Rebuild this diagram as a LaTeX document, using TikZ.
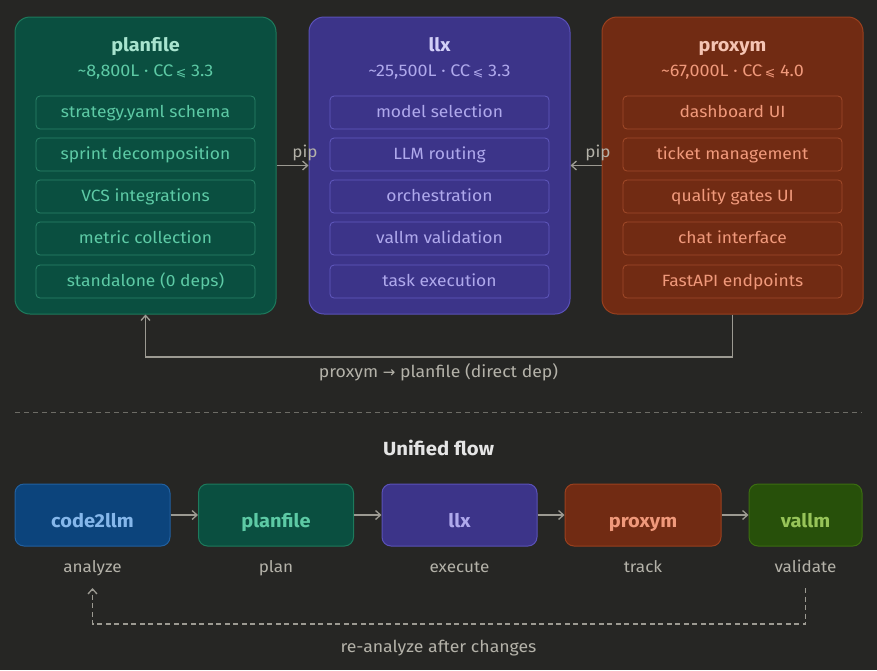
\documentclass[tikz,border=0pt]{standalone}
\usepackage{fontspec}
\setmainfont{Fira Sans}[FakeStretch=1.07]
\newfontfamily\symfont{DejaVu Sans}
\usetikzlibrary{arrows.meta,positioning}
\definecolor{bg}{HTML}{262624}
\definecolor{conn}{HTML}{9C9A92}
\definecolor{lbl}{HTML}{B4B2A9}
\definecolor{pfF}{HTML}{0A4F40}\definecolor{pfB}{HTML}{1D7A5C}\definecolor{pfT}{HTML}{A8E4CF}\definecolor{pfS}{HTML}{5DCAA5}\definecolor{pfI}{HTML}{2A8468}
\definecolor{lxF}{HTML}{3C3489}\definecolor{lxB}{HTML}{5A51B8}\definecolor{lxT}{HTML}{D2CFF7}\definecolor{lxS}{HTML}{AFA9EC}\definecolor{lxI}{HTML}{6159BF}
\definecolor{pxF}{HTML}{712B13}\definecolor{pxB}{HTML}{99401E}\definecolor{pxT}{HTML}{F5C4B3}\definecolor{pxS}{HTML}{F0997B}\definecolor{pxI}{HTML}{A14A2A}
\definecolor{cdF}{HTML}{0C447C}\definecolor{cdB}{HTML}{2160A0}\definecolor{cdT}{HTML}{85B7EB}
\definecolor{vaF}{HTML}{27500A}\definecolor{vaB}{HTML}{3B6D11}\definecolor{vaT}{HTML}{97C459}
\tikzset{
  bigbox/.style={draw, line width=1pt, rounded corners=15pt, minimum width=261pt, minimum height=297pt},
  inbox/.style={draw, line width=0.8pt, rounded corners=4pt, minimum width=219pt, minimum height=33pt, font=\fontsize{16.3}{18}\selectfont, inner sep=0pt, text height=12pt, text depth=1.6pt},
  ttl/.style={anchor=base, font=\fontsize{18.5}{21}\selectfont\bfseries},
  sub/.style={anchor=base, font=\fontsize{16.8}{18}\selectfont},
  flowbox/.style={draw, line width=1pt, rounded corners=9pt, minimum height=62pt},
  ftxt/.style={anchor=base, font=\fontsize{18.7}{21}\selectfont\bfseries},
  flab/.style={anchor=base, text=lbl, font=\fontsize{16}{18}\selectfont},
  cline/.style={draw=conn, line width=1.5pt},
  tip/.style={-{Straight Barb[length=5pt,width=9pt,line width=1.3pt]}},
}
\newcommand{\ccbar}{C\kern-0.5pt C\kern-3pt\raisebox{7pt}{\fontsize{9}{9}\selectfont -}\kern2pt}
\newcommand{\leqs}{{\symfont\fontsize{12.5}{12}\selectfont ⩽}}
\begin{document}
\begin{tikzpicture}[x=1pt,y=-1pt]
\useasboundingbox[fill=bg] (0,0) rectangle (877,670);
% top boxes
\node[bigbox, fill=pfF, draw=pfB] (pf) at (145.5,165.5) {};
\node[bigbox, fill=lxF, draw=lxB] (lx) at (439.5,165.5) {};
\node[bigbox, fill=pxF, draw=pxB] (px) at (732.5,165.5) {};
\node[ttl, text=pfT] (pft) at (145.5,51) {planfile};
\node[ttl, text=lxT] (lxt) at (439.5,51) {llx};
\node[ttl, text=pxT] (pxt) at (732.5,51) {proxym};
\node[sub, text=pfS] (pfs) at (145.5,76.5) {\textasciitilde 8,800L · \ccbar\leqs\ 3.3};
\node[sub, text=lxS] (lxs) at (439.5,76.5) {\textasciitilde 25,500L · \ccbar\leqs\ 3.3};
\node[sub, text=pxS] (pxs) at (732.5,76.5) {\textasciitilde 67,000L · \ccbar\leqs\ 4.0};
% inner boxes
\foreach \i/\yy/\a/\b/\c in {1/112.5/strategy.yaml schema/model selection/dashboard UI,
  2/154.5/sprint decomposition/LLM routing/ticket management,
  3/196.5/VCS integrations/orchestration/quality gates UI,
  4/238.5/metric collection/vallm validation/chat interface,
  5/281.5/standalone (0 deps)/task execution/FastAPI endpoints}{
  \node[inbox, draw=pfI, text=pfS] (pfi\i) at (145.5,\yy) {\a};
  \node[inbox, draw=lxI, text=lxS] (lxi\i) at (439.5,\yy) {\b};
  \node[inbox, draw=pxI, text=pxS] (pxi\i) at (732.5,\yy) {\c};
}
% pip arrows
\draw[cline, tip] (pf.east) -- (lx.west);
\draw[cline, tip] (px.west) -- (lx.east);
\node[flab] (pip1) at (305,157) {pip};
\node[flab] (pip2) at (598,157) {pip};
% direct dep
\draw[cline, tip] (px.south) -- ++(0,42.5) -| (pf.south);
\node[flab, font=\fontsize{16.5}{18}\selectfont] (dd) at (438.5,377.5) {proxym {\symfont\fontsize{15}{16}\selectfont→} planfile (direct dep)};
% separator
\coordinate (sepL) at (15,412);
\coordinate (sepR) at (862,412);
\draw[draw=conn!60!bg, line width=0.8pt, dash pattern=on 5pt off 4pt] (sepL) -- (sepR);
\node[ttl, text=white!88!bg, font=\fontsize{19}{21}\selectfont\bfseries] (uf) at (438.5,455) {Unified flow};
% flow boxes
\node[flowbox, fill=cdF, draw=cdB, minimum width=155pt] (f1) at (92.5,515) {};
\node[flowbox, fill=pfF, draw=pfB, minimum width=155pt] (f2) at (276,515) {};
\node[flowbox, fill=lxF, draw=lxB, minimum width=155pt] (f3) at (459.5,515) {};
\node[flowbox, fill=pxF, draw=pxB, minimum width=156pt] (f4) at (643,515) {};
\node[flowbox, fill=vaF, draw=vaB, minimum width=113pt] (f5) at (805.5,515) {};
\node[ftxt, text=cdT] (t1) at (92.5,527) {code2llm};
\node[ftxt, text=pfS] (t2) at (276,527) {planfile};
\node[ftxt, text=lxS] (t3) at (459.5,527) {llx};
\node[ftxt, text=pxS] (t4) at (643,527) {proxym};
\node[ftxt, text=vaT] (t5) at (805.5,527) {vallm};
\draw[cline, tip] (f1) -- (f2);
\draw[cline, tip] (f2) -- (f3);
\draw[cline, tip] (f3) -- (f4);
\draw[cline, tip] (f4) -- (f5);
\node[flab] (l1) at (92.5,572) {analyze};
\node[flab] (l2) at (276,572) {plan};
\node[flab] (l3) at (459.5,572) {execute};
\node[flab] (l4) at (643,572) {track};
\node[flab] (l5) at (805.5,572) {validate};
% loop
\coordinate (ls) at (805.5,588);
\coordinate (le) at (92.5,588);
\draw[cline, line width=1.3pt, dash pattern=on 5pt off 3.5pt, tip] (ls) -- (805.5,624) -| (le);
\node[flab, font=\fontsize{16.5}{18}\selectfont] (ra) at (438.5,652.5) {re-analyze after changes};
\end{tikzpicture}
\end{document}
